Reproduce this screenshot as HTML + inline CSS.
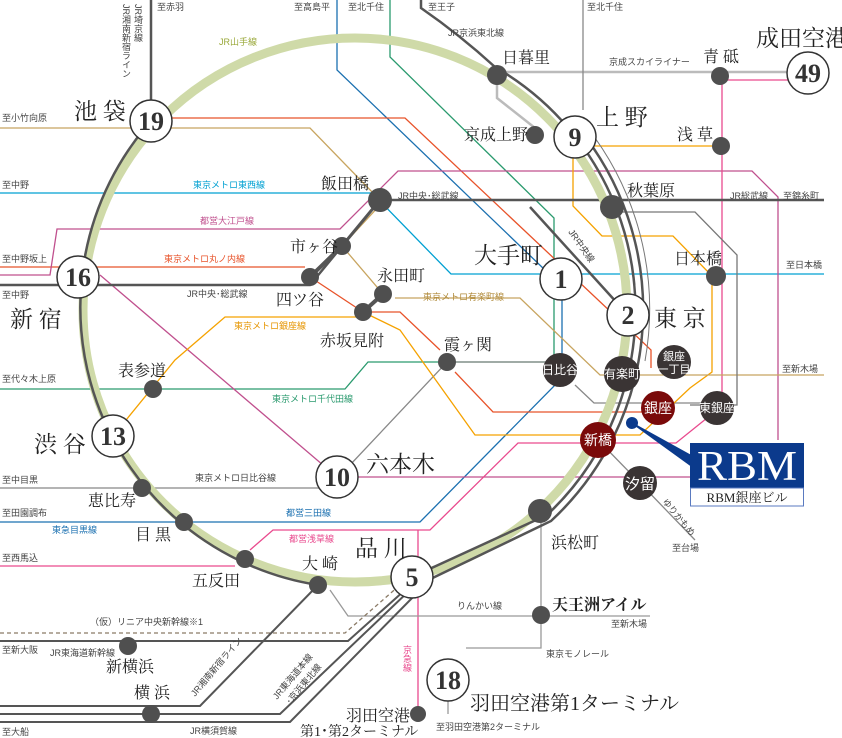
<!DOCTYPE html>
<html><head><meta charset="utf-8"><style>
html,body{margin:0;padding:0;background:#fff;}
svg{display:block;font-family:"Liberation Serif","Noto Serif CJK SC","Noto Sans CJK JP",serif;}
.s{font-size:9px;fill:#444;font-family:"Liberation Sans","Noto Sans CJK JP",sans-serif;}
.n{font-size:16px;fill:#222;}
.b{font-size:23px;fill:#222;}
.num{font-size:26px;font-weight:bold;fill:#333;text-anchor:middle;font-family:"Liberation Serif",serif;}
.w{font-size:12px;fill:#fff;text-anchor:middle;font-family:"Liberation Sans","Noto Sans CJK JP",sans-serif;}
</style></head><body>
<svg width="842" height="738" viewBox="0 0 842 738" xmlns="http://www.w3.org/2000/svg">
<g fill="none" stroke-width="1.3">
<path d="M497,72 H810" stroke="#bbb" stroke-width="2.5"/>
<path d="M497,75 V98 L535,128" stroke="#bbb" stroke-width="2.5"/>
<path d="M722,80 H790" stroke="#e94a8e"/>
<path d="M583,0 V110" stroke="#888"/>
<path d="M151,0 V110" stroke="#555" stroke-width="2.5"/>
<path d="M390,0 V57 L554,218 V368" stroke="#2a9a6e"/>
<path d="M0,389 H345 L368,362 H560" stroke="#2a9a6e"/>
<path d="M337,0 V70 L545,270" stroke="#1b70b0"/>
<path d="M562,300 V368" stroke="#1b70b0"/>
<path d="M0,522 H420 L560,380" stroke="#1b70b0"/>
<path d="M0,193 H372 L451,274 H824" stroke="#00a0d2"/>
<path d="M165,118 H405 L630,330 L651,350 V368" stroke="#e8532a"/>
<path d="M0,267 H305" stroke="#e8532a"/>
<path d="M310,277 L363,312 H400 L440,350 M455,372 L493,412 H650" stroke="#e8532a"/>
<path d="M0,275 H50 L57,229 H340 L398,171 H752 L778,197 V440" stroke="#c0508e"/>
<path d="M100,275 L337,477 H690" stroke="#c0508e"/>
<path d="M722,80 V398" stroke="#e94a8e"/>
<path d="M717,410 L676,443 H518 L430,530 H273 L250,550" stroke="#e94a8e"/>
<path d="M0,566 H235" stroke="#e94a8e"/>
<path d="M418,530 V716" stroke="#e94a8e"/>
<path d="M0,488 H320" stroke="#888"/>
<path d="M350,465 L447,362 H555" stroke="#888"/>
<path d="M575,385 L594,403 H720" stroke="#888"/>
<path d="M113,436 L175,360 L225,317 H360" stroke="#f5a200"/>
<path d="M363,312 L400,330 L475,435 H640 L690,388 L712,372 V283" stroke="#f5a200"/>
<path d="M580,146 H720" stroke="#f5a200"/>
<path d="M573,150 V206 L602,236 H673 L712,276" stroke="#f5a200"/>
<path d="M0,128 H310 L375,195" stroke="#c8a560"/>
<path d="M380,205 L342,246 L383,294" stroke="#c8a560"/>
<path d="M395,298 H520 L600,375 H824" stroke="#c8a560"/>
<path d="M612,212 H695 L737,255 V405 H690" stroke="#777"/>
<path d="M0,285 H310 L380,200 H824" stroke="#555" stroke-width="2.5"/>
<path d="M530,207 L628,315" stroke="#555" stroke-width="2.5"/>
<path d="M598,440 L640,483 L695,540" stroke="#888"/>
<path d="M541,520 V648 H466" stroke="#999"/>
<path d="M330,590 L348,616 H650" stroke="#999"/>
<path d="M448,698 V714" stroke="#999"/>
<path d="M0,633 H345 L400,585" stroke="#8a7a66" stroke-dasharray="4,3"/>
<path d="M0,641 H348 L405,590" stroke="#555" stroke-width="2"/>
<path d="M0,706 H200 L318,585" stroke="#555" stroke-width="2"/>
<path d="M0,714 H280 L410,590 M0,722 H290 L418,592" stroke="#555" stroke-width="2"/>
<circle cx="355" cy="310" r="272" stroke="#cfdaa8" stroke-width="9"/>
<path d="M151,121 A281,281 0 0 0 318,585" stroke="#555" stroke-width="2.5"/>
<path d="M421,0 V8 Q460,35 495,67 A281,281 0 0 1 547,515 L412,577" stroke="#555" stroke-width="2.5"/>
<path d="M576,125 A288,288 0 0 1 551,521 L418,585" stroke="#555" stroke-width="2.5"/>
<path d="M582,121 A295,295 0 0 1 645,361" stroke="#777" stroke-width="1"/>
<path d="M342,246 L310,277 M383,294 L363,312" stroke="#555" stroke-width="4"/>
<path d="M380,200 L342,246" stroke="#555" stroke-width="3"/>
<path d="M632,423 L690,465 L690,455 Z" fill="#0b3a8c" stroke="#0b3a8c"/>
</g>
<g fill="#4f4f4f">
<circle cx="497" cy="75" r="10"/><circle cx="535" cy="135" r="9"/><circle cx="720" cy="76" r="9"/><circle cx="721" cy="146" r="9"/>
<circle cx="612" cy="207" r="12"/><circle cx="716" cy="276" r="10"/><circle cx="380" cy="200" r="12"/><circle cx="342" cy="246" r="9"/>
<circle cx="310" cy="277" r="9"/><circle cx="383" cy="294" r="9"/><circle cx="363" cy="312" r="9"/><circle cx="447" cy="362" r="9"/>
<circle cx="153" cy="389" r="9"/><circle cx="142" cy="488" r="9"/><circle cx="184" cy="522" r="9"/><circle cx="245" cy="559" r="9"/>
<circle cx="318" cy="585" r="9"/><circle cx="540" cy="511" r="12"/><circle cx="541" cy="615" r="9"/><circle cx="128" cy="646" r="9"/>
<circle cx="151" cy="714" r="9"/><circle cx="418" cy="714" r="8"/>
</g>
<g fill="#3a3434">
<circle cx="560" cy="370" r="17"/><circle cx="622" cy="374" r="18"/><circle cx="674" cy="362" r="17"/><circle cx="717" cy="408" r="17"/><circle cx="640" cy="483" r="17"/>
</g>
<g fill="#7a0a0a"><circle cx="658" cy="408" r="17"/><circle cx="598" cy="440" r="18"/></g>
<circle cx="632" cy="423" r="6" fill="#0b3a8c"/>
<text class="w" x="560" y="374">日比谷</text><text class="w" x="622" y="378">有楽町</text>
<text class="w" x="674" y="360" style="font-size:11px">銀座</text><text class="w" x="674" y="373" style="font-size:11px">一丁目</text>
<text class="w" x="717" y="412">東銀座</text><text class="w" x="640" y="489" style="font-size:15px">汐留</text>
<text class="w" x="658" y="413" style="font-size:14px">銀座</text><text class="w" x="598" y="445" style="font-size:14px">新橋</text>
<g fill="#fff" stroke="#333" stroke-width="1.5">
<circle cx="151" cy="121" r="21"/><circle cx="78" cy="277" r="21"/><circle cx="113" cy="436" r="21"/><circle cx="337" cy="477" r="21"/>
<circle cx="412" cy="577" r="21"/><circle cx="561" cy="279" r="21"/><circle cx="628" cy="315" r="21"/><circle cx="575" cy="137" r="21"/>
<circle cx="808" cy="73" r="21"/><circle cx="448" cy="680" r="21"/>
</g>
<text class="num" x="151" y="130">19</text><text class="num" x="78" y="286">16</text><text class="num" x="113" y="445">13</text><text class="num" x="337" y="486">10</text>
<text class="num" x="412" y="586">5</text><text class="num" x="561" y="288">1</text><text class="num" x="628" y="324">2</text><text class="num" x="575" y="146">9</text>
<text class="num" x="808" y="82">49</text><text class="num" x="448" y="689">18</text>
<rect x="690" y="443" width="114" height="45" fill="#0b3a8c"/>
<rect x="690.5" y="488" width="113" height="18" fill="#fff" stroke="#5a7ac0"/>
<text x="697" y="480" fill="#fff" textLength="100" lengthAdjust="spacingAndGlyphs" style="font-size:42px">RBM</text>
<text x="747" y="502" fill="#222" text-anchor="middle" style="font-size:13px">RBM銀座ビル</text>
<text class="b" x="74" y="119">池 袋</text><text class="b" x="10" y="327">新 宿</text><text class="b" x="34" y="452">渋 谷</text>
<text class="b" x="366" y="472">六本木</text><text class="b" x="355" y="556">品 川</text><text class="b" x="474" y="263">大手町</text>
<text class="b" x="654" y="326">東 京</text><text class="b" x="596" y="125">上 野</text><text class="b" x="756" y="46">成田空港</text>
<text class="b" x="470" y="710" style="font-size:20px">羽田空港第1ターミナル</text>
<g class="n">
<text x="502" y="63">日暮里</text><text x="464" y="140">京成上野</text><text x="703" y="62">青 砥</text><text x="677" y="140">浅 草</text>
<text x="627" y="196">秋葉原</text><text x="674" y="264">日本橋</text><text x="321" y="189">飯田橋</text><text x="290" y="252">市ヶ谷</text>
<text x="276" y="305">四ツ谷</text><text x="377" y="281">永田町</text><text x="320" y="346">赤坂見附</text><text x="444" y="350">霞ヶ関</text>
<text x="118" y="376">表参道</text><text x="88" y="506">恵比寿</text><text x="135" y="540">目 黒</text><text x="192" y="586">五反田</text>
<text x="302" y="569">大 崎</text><text x="551" y="548">浜松町</text><text x="552" y="610" style="font-weight:bold">天王洲アイル</text>
<text x="106" y="672">新横浜</text><text x="134" y="698">横 浜</text><text x="346" y="721">羽田空港</text><text x="300" y="736" style="font-size:14px">第1･第2ターミナル</text>
</g>
<g class="s">
<text x="157" y="10">至赤羽</text><text x="294" y="10">至高島平</text><text x="348" y="10">至北千住</text><text x="428" y="10">至王子</text><text x="587" y="10">至北千住</text>
<text x="448" y="36">JR京浜東北線</text><text x="219" y="45" fill="#9aa83a">JR山手線</text><text x="609" y="65">京成スカイライナー</text>
<text x="2" y="121">至小竹向原</text><text x="2" y="188">至中野</text><text x="193" y="188" fill="#00a0d2">東京メトロ東西線</text>
<text x="200" y="224" fill="#c0508e">都営大江戸線</text><text x="2" y="262">至中野坂上</text><text x="164" y="262" fill="#e8532a">東京メトロ丸ノ内線</text>
<text x="2" y="298">至中野</text><text x="187" y="297">JR中央･総武線</text><text x="398" y="199">JR中央･総武線</text><text x="730" y="199">JR総武線</text><text x="783" y="199">至錦糸町</text>
<text x="234" y="329" fill="#e69500">東京メトロ銀座線</text><text x="423" y="300" fill="#b08a3a">東京メトロ有楽町線</text><text x="786" y="268">至日本橋</text>
<text x="2" y="382">至代々木上原</text><text x="272" y="402" fill="#2a9a6e">東京メトロ千代田線</text><text x="782" y="372">至新木場</text>
<text x="2" y="483">至中目黒</text><text x="195" y="481">東京メトロ日比谷線</text><text x="2" y="516">至田園調布</text><text x="286" y="516" fill="#1b70b0">都営三田線</text>
<text x="52" y="533" fill="#1b70b0">東急目黒線</text><text x="289" y="542" fill="#e94a8e">都営浅草線</text><text x="2" y="561">至西馬込</text>
<text x="90" y="625">（仮）リニア中央新幹線※1</text><text x="2" y="653">至新大阪</text><text x="50" y="656">JR東海道新幹線</text>
<text x="457" y="609">りんかい線</text><text x="611" y="627">至新木場</text><text x="546" y="657">東京モノレール</text>
<text x="2" y="735">至大船</text><text x="190" y="734">JR横須賀線</text><text x="436" y="730">至羽田空港第2ターミナル</text><text x="672" y="551">至台場</text>
</g>
<g class="s">
<text transform="translate(568,232) rotate(55)">JR中央線</text>
<text transform="translate(195,697) rotate(-50)">JR湘南新宿ライン</text>
<text transform="translate(277,700) rotate(-50)">JR東海道本線</text>
<text transform="translate(290,705) rotate(-50)">･京浜東北線</text>
<text transform="translate(662,502) rotate(50)">ゆりかもめ</text>
<text x="407" y="645" fill="#e94a8e" writing-mode="tb">京急線</text>
<text x="138" y="4" writing-mode="tb">JR埼京線</text>
<text x="126" y="4" writing-mode="tb">JR湘南新宿ライン</text>
</g>
</svg>
</body></html>
